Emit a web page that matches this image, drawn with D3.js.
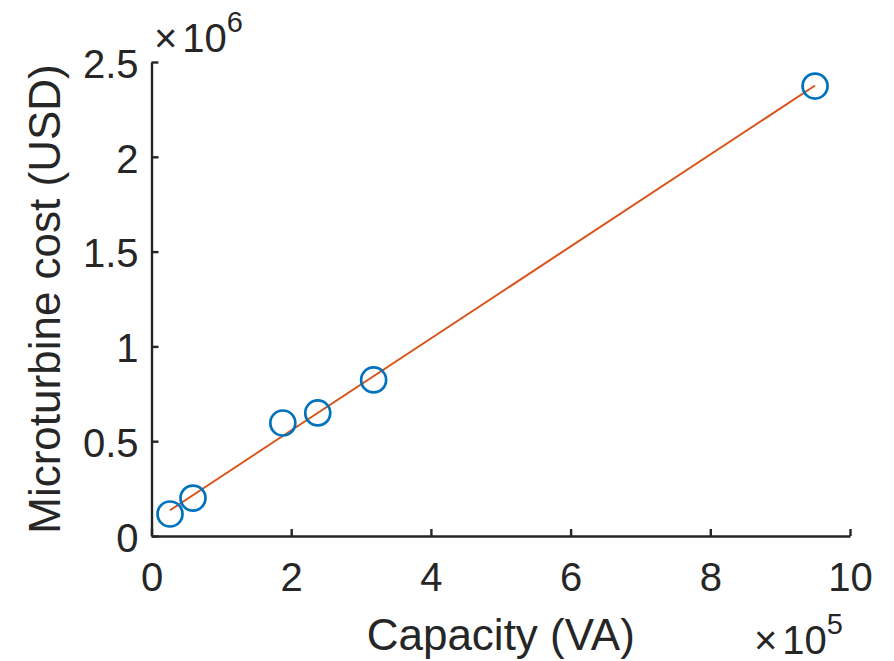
<!DOCTYPE html>
<html>
<head>
<meta charset="utf-8">
<script src="https://cdn.jsdelivr.net/npm/d3@7"></script>
<style>
  html, body { margin: 0; padding: 0; background: #fff; }
  svg { display: block; font-family: "Liberation Sans", Arial, Helvetica, sans-serif; }
</style>
</head>
<body>
<svg id="chart" width="894" height="661"></svg>
<script>
// Data
const capacity = [26500, 59400, 188000, 238000, 318000, 950000];   // VA
const cost     = [116000, 200000, 596000, 649000, 823000, 2373000]; // USD
const fitCapacity = [26500, 950000];
const fitCost     = [136000, 2376000];
const xTicks = [0, 2, 4, 6, 8, 10];          // x 1e5
const yTicks = [0, 0.5, 1, 1.5, 2, 2.5];     // x 1e6
const xExpScale = 1e5, yExpScale = 1e6;

const svg = d3.select("#chart");
const L = 151.5, R = 850, T = 62, B = 536;
const axisColor = "#262626";
const tickFont = 40, labelFont = 44;

const x = d3.scaleLinear().domain([0, 10 * xExpScale]).range([L, R]);
const y = d3.scaleLinear().domain([0, 2.5 * yExpScale]).range([B, T]);

// Axes
const xAxis = d3.axisBottom(x)
  .tickValues(xTicks.map(v => v * xExpScale))
  .tickFormat(v => d3.format("~g")(v / xExpScale))
  .tickSizeInner(-7).tickSizeOuter(0).tickPadding(27);
const yAxis = d3.axisLeft(y)
  .tickValues(yTicks.map(v => v * yExpScale))
  .tickFormat(v => d3.format("~g")(v / yExpScale))
  .tickSizeInner(-7).tickSizeOuter(0).tickPadding(13);

const gx = svg.append("g").attr("transform", `translate(0,${B})`).call(xAxis);
const gy = svg.append("g").attr("transform", `translate(${L},0)`).call(yAxis);
[gx, gy].forEach(g => {
  g.select(".domain").attr("stroke", axisColor).attr("stroke-width", 2.4);
  g.selectAll(".tick line").attr("stroke", axisColor).attr("stroke-width", 2.4);
  g.selectAll(".tick text").attr("fill", axisColor)
    .style("font-size", tickFont + "px").style("font-family", "inherit");
});
gy.selectAll(".tick text").attr("dy", "0.38em");

// Fit line
svg.append("line")
  .attr("x1", x(fitCapacity[0])).attr("y1", y(fitCost[0]))
  .attr("x2", x(fitCapacity[1])).attr("y2", y(fitCost[1]))
  .attr("stroke", "#D95319").attr("stroke-width", 2);

// Markers
svg.append("g").selectAll("circle")
  .data(capacity.map((c, i) => ({ c, v: cost[i] })))
  .join("circle")
  .attr("cx", d => x(d.c)).attr("cy", d => y(d.v))
  .attr("r", 12.5)
  .attr("fill", "none").attr("stroke", "#0072BD").attr("stroke-width", 2.7);

// Axis labels
svg.append("text")
  .attr("x", (L + R) / 2).attr("y", 650)
  .attr("text-anchor", "middle").attr("fill", axisColor)
  .style("font-size", labelFont + "px")
  .text("Capacity (VA)");
svg.append("text")
  .attr("transform", `translate(60,${(T + B) / 2}) rotate(-90)`)
  .attr("text-anchor", "middle").attr("fill", axisColor)
  .style("font-size", labelFont + "px")
  .text("Microturbine cost (USD)");

// Exponent labels
function expLabel(xp, yp, exp) {
  const t = svg.append("text").attr("x", xp).attr("y", yp).attr("fill", axisColor)
    .style("font-size", tickFont + "px");
  t.append("tspan").text("\u00d7").style("font-weight", "300");
  t.append("tspan").text("10").attr("dx", 5);
  t.append("tspan").text(exp).attr("dy", -20).style("font-size", "29px");
}
expLabel(154, 52, "6");
expLabel(754, 654, "5");
</script>
</body>
</html>
